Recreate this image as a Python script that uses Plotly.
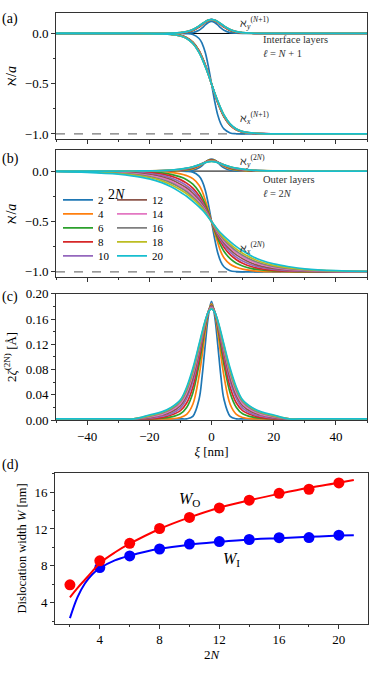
import plotly.graph_objects as go

FONT = "Liberation Serif, Times New Roman, DejaVu Serif, serif"
W, H = 374, 673

two_n = [2, 4, 6, 8, 10, 12, 14, 16, 18, 20]
colors = ["#1f77b4", "#ff7f0e", "#2ca02c", "#d62728", "#9467bd",
          "#8c564b", "#e377c2", "#7f7f7f", "#bcbd22", "#17becf"]

# half profiles read at xi >= 0 (nm); the other side is the mirror image
xi_half = [0, 1, 2, 3, 4, 6, 8, 10, 13, 16, 20, 25, 30, 40, 50]

# (a) interface layers: distance of N_x/a from -1
dx_inter = [
    [0.5, 0.33, 0.19, 0.10, 0.05, 0.01, 0.002, 0, 0, 0, 0, 0, 0, 0, 0],
    [0.5, 0.40, 0.31, 0.235, 0.17, 0.085, 0.04, 0.018, 0.006, 0.002, 0, 0, 0, 0, 0],
    [0.5, 0.402, 0.313, 0.238, 0.173, 0.087, 0.042, 0.019, 0.007, 0.002, 0, 0, 0, 0, 0],
    [0.5, 0.404, 0.316, 0.241, 0.176, 0.09, 0.044, 0.02, 0.007, 0.003, 0.001, 0, 0, 0, 0],
    [0.5, 0.405, 0.318, 0.244, 0.179, 0.092, 0.045, 0.021, 0.008, 0.003, 0.001, 0, 0, 0, 0],
    [0.5, 0.406, 0.321, 0.246, 0.181, 0.094, 0.046, 0.022, 0.008, 0.003, 0.001, 0, 0, 0, 0],
    [0.5, 0.407, 0.323, 0.248, 0.184, 0.096, 0.047, 0.023, 0.009, 0.003, 0.001, 0, 0, 0, 0],
    [0.5, 0.408, 0.325, 0.251, 0.186, 0.097, 0.048, 0.024, 0.009, 0.004, 0.001, 0, 0, 0, 0],
    [0.5, 0.409, 0.328, 0.253, 0.188, 0.099, 0.049, 0.024, 0.01, 0.004, 0.001, 0, 0, 0, 0],
    [0.5, 0.41, 0.33, 0.255, 0.19, 0.10, 0.05, 0.025, 0.01, 0.004, 0.001, 0, 0, 0, 0],
]
# (a) interface layers: N_y/a
ny_inter = [
    [0.12, 0.11, 0.085, 0.055, 0.032, 0.008, 0.002, 0, 0, 0, 0, 0, 0, 0, 0],
    [0.135, 0.128, 0.11, 0.087, 0.064, 0.03, 0.012, 0.005, 0.001, 0, 0, 0, 0, 0, 0],
    [0.136, 0.129, 0.111, 0.089, 0.066, 0.031, 0.013, 0.005, 0.002, 0, 0, 0, 0, 0, 0],
    [0.137, 0.13, 0.112, 0.09, 0.067, 0.033, 0.014, 0.006, 0.002, 0, 0, 0, 0, 0, 0],
    [0.137, 0.131, 0.113, 0.091, 0.069, 0.034, 0.015, 0.006, 0.002, 0.001, 0, 0, 0, 0, 0],
    [0.138, 0.131, 0.114, 0.093, 0.07, 0.035, 0.016, 0.007, 0.002, 0.001, 0, 0, 0, 0, 0],
    [0.138, 0.132, 0.115, 0.094, 0.071, 0.037, 0.017, 0.007, 0.002, 0.001, 0, 0, 0, 0, 0],
    [0.139, 0.133, 0.116, 0.095, 0.073, 0.038, 0.018, 0.008, 0.003, 0.001, 0, 0, 0, 0, 0],
    [0.139, 0.133, 0.117, 0.096, 0.074, 0.039, 0.018, 0.008, 0.003, 0.001, 0, 0, 0, 0, 0],
    [0.14, 0.134, 0.118, 0.097, 0.075, 0.04, 0.019, 0.009, 0.003, 0.001, 0, 0, 0, 0, 0],
]
# (b) outer layers: distance of N_x/a from -1
dx_outer = [
    [0.5, 0.33, 0.19, 0.10, 0.05, 0.01, 0.002, 0, 0, 0, 0, 0, 0, 0, 0],
    [0.5, 0.39, 0.29, 0.20, 0.14, 0.075, 0.045, 0.027, 0.012, 0.005, 0.002, 0, 0, 0, 0],
    [0.5, 0.41, 0.33, 0.26, 0.205, 0.13, 0.085, 0.058, 0.032, 0.018, 0.008, 0.003, 0.001, 0, 0],
    [0.5, 0.425, 0.355, 0.295, 0.245, 0.17, 0.12, 0.085, 0.05, 0.03, 0.015, 0.007, 0.003, 0.001, 0],
    [0.5, 0.435, 0.37, 0.315, 0.27, 0.195, 0.145, 0.108, 0.068, 0.043, 0.024, 0.012, 0.006, 0.002, 0],
    [0.5, 0.44, 0.38, 0.33, 0.29, 0.22, 0.168, 0.13, 0.085, 0.057, 0.034, 0.018, 0.01, 0.003, 0.001],
    [0.5, 0.445, 0.39, 0.345, 0.305, 0.24, 0.188, 0.148, 0.102, 0.07, 0.044, 0.025, 0.014, 0.005, 0.002],
    [0.5, 0.45, 0.40, 0.355, 0.32, 0.258, 0.205, 0.165, 0.117, 0.083, 0.054, 0.032, 0.019, 0.007, 0.003],
    [0.5, 0.455, 0.41, 0.37, 0.335, 0.275, 0.225, 0.185, 0.135, 0.097, 0.064, 0.039, 0.024, 0.009, 0.004],
    [0.5, 0.46, 0.42, 0.385, 0.355, 0.30, 0.25, 0.21, 0.155, 0.115, 0.078, 0.05, 0.03, 0.012, 0.005],
]
# (b) outer layers: N_y/a
ny_outer = [
    [0.12, 0.11, 0.085, 0.055, 0.032, 0.008, 0.002, 0, 0, 0, 0, 0, 0, 0, 0],
    [0.115, 0.108, 0.09, 0.068, 0.049, 0.022, 0.01, 0.004, 0.001, 0, 0, 0, 0, 0, 0],
    [0.111, 0.105, 0.09, 0.072, 0.055, 0.029, 0.015, 0.008, 0.003, 0.001, 0, 0, 0, 0, 0],
    [0.108, 0.103, 0.09, 0.073, 0.058, 0.033, 0.019, 0.011, 0.005, 0.002, 0.001, 0, 0, 0, 0],
    [0.105, 0.1, 0.089, 0.074, 0.059, 0.036, 0.022, 0.013, 0.006, 0.003, 0.001, 0, 0, 0, 0],
    [0.103, 0.099, 0.088, 0.074, 0.06, 0.038, 0.024, 0.015, 0.007, 0.003, 0.001, 0, 0, 0, 0],
    [0.101, 0.097, 0.087, 0.074, 0.061, 0.04, 0.026, 0.016, 0.008, 0.004, 0.001, 0.001, 0, 0, 0],
    [0.099, 0.095, 0.086, 0.074, 0.061, 0.041, 0.027, 0.017, 0.009, 0.004, 0.002, 0.001, 0, 0, 0],
    [0.097, 0.094, 0.085, 0.073, 0.062, 0.042, 0.028, 0.018, 0.009, 0.005, 0.002, 0.001, 0, 0, 0],
    [0.095, 0.092, 0.084, 0.073, 0.062, 0.043, 0.029, 0.019, 0.01, 0.005, 0.002, 0.001, 0, 0, 0],
]
# (c) 2*zeta^(2N) in Angstrom
zeta = [
    [0.188, 0.165, 0.12, 0.07, 0.033, 0.006, 0.002, 0.002, 0.002, 0.002, 0.002, 0.002, 0.002, 0.002, 0.002],
    [0.184, 0.171, 0.14, 0.103, 0.07, 0.025, 0.009, 0.004, 0.002, 0.002, 0.002, 0.002, 0.002, 0.002, 0.002],
    [0.182, 0.172, 0.148, 0.117, 0.088, 0.043, 0.02, 0.01, 0.005, 0.003, 0.002, 0.002, 0.002, 0.002, 0.002],
    [0.181, 0.172, 0.151, 0.124, 0.097, 0.052, 0.027, 0.015, 0.008, 0.004, 0.002, 0.002, 0.002, 0.002, 0.002],
    [0.18, 0.172, 0.153, 0.128, 0.104, 0.061, 0.034, 0.019, 0.01, 0.006, 0.003, 0.002, 0.002, 0.002, 0.002],
    [0.179, 0.171, 0.154, 0.131, 0.108, 0.067, 0.039, 0.023, 0.013, 0.008, 0.004, 0.002, 0.002, 0.002, 0.002],
    [0.178, 0.171, 0.155, 0.134, 0.112, 0.072, 0.043, 0.026, 0.015, 0.009, 0.005, 0.002, 0.002, 0.002, 0.002],
    [0.177, 0.171, 0.156, 0.136, 0.115, 0.076, 0.047, 0.029, 0.017, 0.011, 0.006, 0.002, 0.002, 0.002, 0.002],
    [0.1765, 0.171, 0.157, 0.138, 0.118, 0.079, 0.05, 0.031, 0.019, 0.012, 0.007, 0.002, 0.002, 0.002, 0.002],
    [0.176, 0.171, 0.158, 0.14, 0.12, 0.082, 0.052, 0.032, 0.02, 0.013, 0.008, 0.002, 0.002, 0.002, 0.002],
]

# (d) dislocation widths
two_n_outer = [2, 4, 6, 8, 10, 12, 14, 16, 18, 20]
w_outer = [5.95, 8.55, 10.45, 12.05, 13.25, 14.28, 15.12, 15.86, 16.3, 16.98]
two_n_inner = [4, 6, 8, 10, 12, 14, 16, 18, 20]
w_inner = [7.82, 9.08, 9.83, 10.36, 10.63, 10.86, 11.06, 11.07, 11.33]
two_n_fit = [2, 2.5, 3, 3.5, 4, 5, 6, 8, 10, 12, 14, 16, 18, 20, 21]
w_outer_fit = [4.6, 5.6, 6.5, 7.4, 8.3, 9.45, 10.4, 12.0, 13.25, 14.3, 15.1, 15.8, 16.45, 17.0, 17.3]
w_inner_fit = [2.35, 4.6, 6.1, 7.1, 7.75, 8.6, 9.1, 9.85, 10.3, 10.6, 10.85, 11.0, 11.15, 11.28, 11.33]

xi_full = [-v for v in xi_half[::-1]] + xi_half[1:]


def step_profile(d):
    return [-v for v in d[::-1]] + [-1 + v for v in d[1:]]


def even_profile(v):
    return v[::-1] + v[1:]


def py(p):
    return 1 - p / H


def px(p):
    return p / W


fig = go.Figure()
LW = 1.7
legend_names = ["legend", "legend2", "legend3", "legend4", "legend5"]

for i, n in enumerate(two_n):
    c = colors[i]
    fig.add_trace(go.Scatter(x=xi_full, y=step_profile(dx_inter[i]), mode="lines",
                             line=dict(color=c, width=LW, shape="spline"),
                             xaxis="x", yaxis="y", showlegend=False))
    fig.add_trace(go.Scatter(x=xi_full, y=even_profile(ny_inter[i]), mode="lines",
                             line=dict(color=c, width=LW, shape="spline"),
                             xaxis="x", yaxis="y", showlegend=False))

for i, n in enumerate(two_n):
    c = colors[i]
    # legend laid out in two columns: one small legend per row
    fig.add_trace(go.Scatter(x=xi_full, y=step_profile(dx_outer[i]), mode="lines", name=str(n),
                             line=dict(color=c, width=LW, shape="spline"),
                             xaxis="x2", yaxis="y2", legend=legend_names[i % 5]))
    fig.add_trace(go.Scatter(x=xi_full, y=even_profile(ny_outer[i]), mode="lines",
                             line=dict(color=c, width=LW, shape="spline"),
                             xaxis="x2", yaxis="y2", showlegend=False))

for i, n in enumerate(two_n):
    fig.add_trace(go.Scatter(x=xi_full, y=even_profile(zeta[i]), mode="lines",
                             line=dict(color=colors[i], width=LW, shape="spline"),
                             xaxis="x3", yaxis="y3", showlegend=False))

fig.add_trace(go.Scatter(x=two_n_fit, y=w_inner_fit, mode="lines", line=dict(color="blue", width=2, shape="spline"),
                         xaxis="x4", yaxis="y4", showlegend=False))
fig.add_trace(go.Scatter(x=two_n_inner, y=w_inner, mode="markers", marker=dict(color="blue", size=11),
                         xaxis="x4", yaxis="y4", showlegend=False))
fig.add_trace(go.Scatter(x=two_n_fit, y=w_outer_fit, mode="lines", line=dict(color="red", width=2, shape="spline"),
                         xaxis="x4", yaxis="y4", showlegend=False))
fig.add_trace(go.Scatter(x=two_n_outer, y=w_outer, mode="markers", marker=dict(color="red", size=11),
                         xaxis="x4", yaxis="y4", showlegend=False))

# reference lines
for xa, ya in [("x", "y"), ("x2", "y2")]:
    fig.add_shape(type="line", xref=xa + " domain", yref=ya, x0=0, x1=1, y0=0, y1=0,
                  line=dict(color="black", width=1), layer="below")
    fig.add_shape(type="line", xref=xa + " domain", yref=ya, x0=0, x1=1, y0=-1, y1=-1,
                  line=dict(color="#777", width=1.2, dash="dash"), layer="below")

tickfont = dict(family=FONT, size=13, color="black")
axis_common = dict(showline=True, mirror=True, linecolor="#333", linewidth=1, ticks="outside",
                   ticklen=4, tickwidth=1, tickcolor="#333", showgrid=False, zeroline=False,
                   tickfont=tickfont)
xdom = [px(56), px(367)]
xi_axis = dict(axis_common, range=[-50, 50], tick0=0, dtick=20,
               minor=dict(dtick=10, ticks="outside", ticklen=2, tickcolor="#333"))
n_axis_y = dict(axis_common, range=[-1.05, 0.205], tick0=0, dtick=0.5, tickformat=".1f",
                minor=dict(dtick=0.25, ticks="outside", ticklen=2, tickcolor="#333"),
                title=dict(text="ℵ/<i>a</i>", font=dict(family=FONT, size=14), standoff=4))

legends = {}
row_y = [197.3, 211.6, 225.9, 240.2, 254.5]
for k, name in enumerate(legend_names):
    legends[name] = dict(x=px(58), y=py(row_y[k]), xanchor="left", yanchor="middle",
                         orientation="h", bgcolor="rgba(0,0,0,0)", borderwidth=0,
                         font=dict(family=FONT, size=11), itemwidth=30,
                         entrywidth=9, entrywidthmode="pixels", traceorder="normal")

fig.update_layout(
    width=W, height=H, autosize=False,
    margin=dict(l=0, r=0, t=0, b=0),
    paper_bgcolor="white", plot_bgcolor="white",
    font=dict(family=FONT, size=13, color="black"),
    xaxis=dict(xi_axis, domain=xdom, anchor="y", showticklabels=False),
    yaxis=dict(n_axis_y, domain=[py(135), py(6)], anchor="x"),
    xaxis2=dict(xi_axis, domain=xdom, anchor="y2", showticklabels=False),
    yaxis2=dict(n_axis_y, domain=[py(276), py(146.7)], anchor="x2"),
    xaxis3=dict(xi_axis, domain=xdom, anchor="y3",
                title=dict(text="<i>ξ</i> [nm]", font=dict(family=FONT, size=13), standoff=3)),
    yaxis3=dict(axis_common, domain=[py(422.5), py(293.3)], anchor="x3", range=[0, 0.2],
                tick0=0, dtick=0.04, tickformat=".2f",
                minor=dict(dtick=0.02, ticks="outside", ticklen=2, tickcolor="#333"),
                title=dict(text="2<i>ζ</i><sup>(2N)</sup> [Å]", font=dict(family=FONT, size=13), standoff=6)),
    xaxis4=dict(axis_common, domain=[px(55), px(368)], anchor="y4", range=[1.0, 21.95],
                tick0=0, dtick=4, minor=dict(dtick=2, ticks="outside", ticklen=2, tickcolor="#333"),
                title=dict(text="2<i>N</i>", font=dict(family=FONT, size=13), standoff=2)),
    yaxis4=dict(axis_common, domain=[py(630.7), py(476.7)], anchor="x4", range=[1.75, 18.05],
                tick0=0, dtick=4, minor=dict(dtick=2, ticks="outside", ticklen=2, tickcolor="#333"),
                title=dict(text="Dislocation width <i>W</i> [nm]", font=dict(family=FONT, size=12.5), standoff=5)),
    **legends,
)

ann = []
for txt, yy in [("(a)", 12), ("(b)", 155), ("(c)", 297), ("(d)", 468)]:
    ann.append(dict(text=txt, xref="paper", yref="paper", x=0, y=py(yy), xanchor="left", yanchor="middle",
                    font=dict(family=FONT, size=14)))
small = dict(family=FONT, size=11, color="#222")
ann += [
    dict(text="ℵ<sub><i>y</i></sub><sup>(<i>N</i>+1)</sup>", x=8.5, y=0.1, xref="x", yref="y", xanchor="left", font=small),
    dict(text="Interface layers<br><i>ℓ</i> = <i>N</i> + 1", x=16, y=-0.13, xref="x", yref="y",
         xanchor="left", align="left", font=dict(family=FONT, size=10.5, color="#333")),
    dict(text="ℵ<sub><i>x</i></sub><sup>(<i>N</i>+1)</sup>", x=8.5, y=-0.84, xref="x", yref="y", xanchor="left", font=small),
    dict(text="ℵ<sub><i>y</i></sub><sup>(2<i>N</i>)</sup>", x=8.5, y=0.105, xref="x2", yref="y2", xanchor="left", font=small),
    dict(text="Outer layers<br><i>ℓ</i> = 2<i>N</i>", x=16, y=-0.149, xref="x2", yref="y2",
         xanchor="left", align="left", font=dict(family=FONT, size=10.5, color="#333")),
    dict(text="ℵ<sub><i>x</i></sub><sup>(2<i>N</i>)</sup>", x=8.5, y=-0.76, xref="x2", yref="y2", xanchor="left", font=small),
    dict(text="2<i>N</i>", xref="paper", yref="paper", x=px(106), y=py(181.7), font=dict(family=FONT, size=14)),
    dict(text="<i>W</i><sub>O</sub>", x=10.0, y=15.2, xref="x4", yref="y4", font=dict(family=FONT, size=16)),
    dict(text="<i>W</i><sub>I</sub>", x=12.8, y=8.7, xref="x4", yref="y4", font=dict(family=FONT, size=16)),
]
for a in ann:
    a.setdefault("showarrow", False)
fig.update_layout(annotations=ann)

fig.write_html("out.html", config={"displayModeBar": False},
               post_script="document.body.style.margin='0px';")
